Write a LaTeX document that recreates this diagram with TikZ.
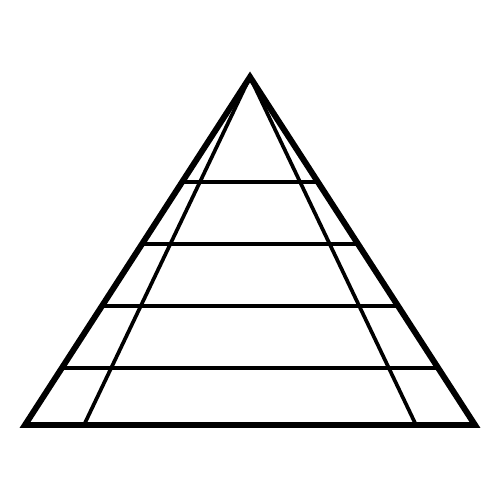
\documentclass[tikz,border=0pt]{standalone}
\usetikzlibrary{calc}

\begin{document}
\begin{tikzpicture}[
    x=0.02cm, y=-0.02cm,
    % stili
    outline/.style={draw=black, line width=3.4pt, line join=miter},
    layerline/.style={draw=black, line width=2.1pt},
    ridge/.style={draw=black, line width=2.1pt}
]

% area del disegno
\useasboundingbox (0,0) rectangle (500,500);

% vertici della piramide
\coordinate (apex) at (250,77);
\coordinate (baseL) at (25,425);
\coordinate (baseR) at (475,425);
\coordinate (footL) at (84,425);
\coordinate (footR) at (416,425);

% spigoli interni
\draw[ridge] (apex) -- (footL);
\draw[ridge] (apex) -- (footR);

% livelli
\foreach \t [count=\i] in {0.302,0.480,0.658,0.836}{
    \coordinate (lvlL\i) at ($(apex)!\t!(baseL)$);
    \coordinate (lvlR\i) at ($(apex)!\t!(baseR)$);
    \draw[layerline] (lvlL\i) -- (lvlR\i);
}

% contorno
\draw[outline] (apex) -- (baseR) -- (baseL) -- cycle;

\end{tikzpicture}
\end{document}
